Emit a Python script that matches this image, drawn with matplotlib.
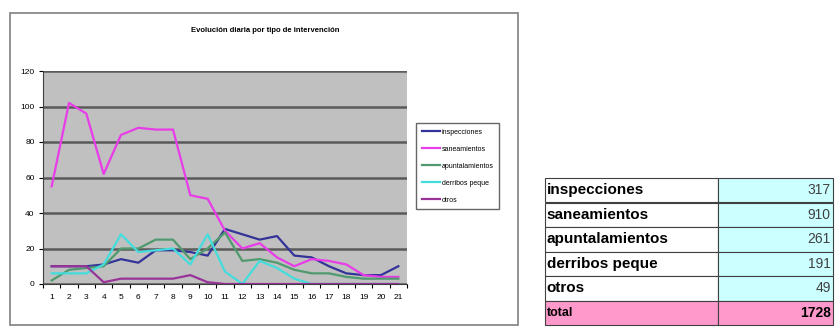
import matplotlib.pyplot as plt
import numpy as np
from matplotlib.patches import Rectangle

# datos diarios por tipo de intervención
dias = list(range(1, 22))
inspecciones = [10, 10, 10, 11, 14, 12, 19, 19, 18, 16, 31, 28, 25, 27, 16, 15, 10, 6, 5, 5, 10]
saneamientos = [55, 102, 96, 62, 84, 88, 87, 87, 50, 48, 30, 20, 23, 15, 10, 14, 13, 11, 5, 4, 4]
apuntalamientos = [2, 8, 9, 10, 20, 20, 25, 25, 14, 20, 29, 13, 14, 12, 8, 6, 6, 4, 3, 3, 3]
derribos_peque = [6, 6, 6, 11, 28, 18, 19, 20, 11, 28, 7, 0, 13, 9, 3, 0, 0, 0, 0, 0, 0]
otros = [10, 10, 10, 1, 3, 3, 3, 3, 5, 1, 0, 0, 0, 0, 0, 0, 0, 0, 0, 0, 0]

series = ["inspecciones", "saneamientos", "apuntalamientos", "derribos peque", "otros"]
colores = ["#333399", "#e83ce8", "#4f9a6e", "#44dcdc", "#993399"]
totales = [317, 910, 261, 191, 49]
total = 1728

plt.rcParams['font.family'] = ['Liberation Sans', 'DejaVu Sans']

fig = plt.figure(figsize=(8.35, 3.29), dpi=100)

# marco del gráfico
fig.patches.append(Rectangle((10 / 835, 4 / 329), 508 / 835, 312 / 329,
                             transform=fig.transFigure, fill=False,
                             edgecolor="#808080", linewidth=1.2))

ax = fig.add_axes([43 / 835, 1 - 284 / 329, 364 / 835, 213 / 329])
ax.set_facecolor("#c0c0c0")
for nombre, valores, c in zip(series, [inspecciones, saneamientos, apuntalamientos, derribos_peque, otros], colores):
    ax.plot(dias, valores, color=c, linewidth=1.6, label=nombre)

ax.set_xlim(0.5, 21.5)
ax.set_ylim(0, 120)
ax.set_yticks(range(0, 121, 20))
ax.yaxis.grid(True, color="#5a5a5a", linewidth=1.8)
ax.set_axisbelow(True)
ax.set_xticks(dias)
ax.set_xticks(np.arange(0.5, 22, 1), minor=True)
ax.tick_params(axis="x", which="major", length=0, labelsize=6, pad=7)
ax.tick_params(axis="x", which="minor", length=3, width=0.8)
ax.tick_params(axis="y", length=3, width=0.8, labelsize=6, pad=3)
for s in ["top", "right"]:
    ax.spines[s].set_visible(False)
for s in ["left", "bottom"]:
    ax.spines[s].set_color("#404040")
    ax.spines[s].set_linewidth(0.8)

fig.text(265 / 835, 1 - 31 / 329, "Evolución diaria por tipo de intervención",
         ha="center", va="center", fontsize=5.5, fontweight="semibold")

leg = fig.legend(loc="upper left", bbox_to_anchor=(416 / 835, 1 - 123 / 329),
                 fontsize=5, frameon=True, fancybox=False, handlelength=2.6,
                 labelspacing=1.45, borderpad=0.8, handletextpad=0.3,
                 borderaxespad=0)
leg.get_frame().set_edgecolor("#404040")
leg.get_frame().set_linewidth(1.0)

# tabla de totales
tax = fig.add_axes([545 / 835, 4 / 329, 288 / 835, 147 / 329])
tax.axis("off")
filas = series + ["total"]
valores_tabla = [str(v) for v in totales] + [str(total)]
celdas = [[f, v] for f, v in zip(filas, valores_tabla)]
colores_celda = [["white", "#ccffff"] for _ in series] + [["#ff99cc", "#ff99cc"]]
tabla = tax.table(cellText=celdas, cellColours=colores_celda, bbox=[0, 0, 1, 1],
                  colWidths=[0.6, 0.4])
tabla.auto_set_font_size(False)
for (r, c), cell in tabla.get_celld().items():
    cell.set_edgecolor("#404040")
    cell.set_linewidth(0.8)
    txt = cell.get_text()
    if c == 0:
        txt.set_ha("left")
        cell.PAD = 0.01
        txt.set_fontsize(11)
        txt.set_fontweight("heavy")
        if r == len(filas) - 1:
            txt.set_fontsize(9)
    else:
        txt.set_ha("right")
        cell.PAD = 0.02
        txt.set_fontsize(10)
        txt.set_color("#404040")
        if r == len(filas) - 1:
            txt.set_fontweight("bold")
            txt.set_color("black")

fig.savefig("out.png", dpi=100)
